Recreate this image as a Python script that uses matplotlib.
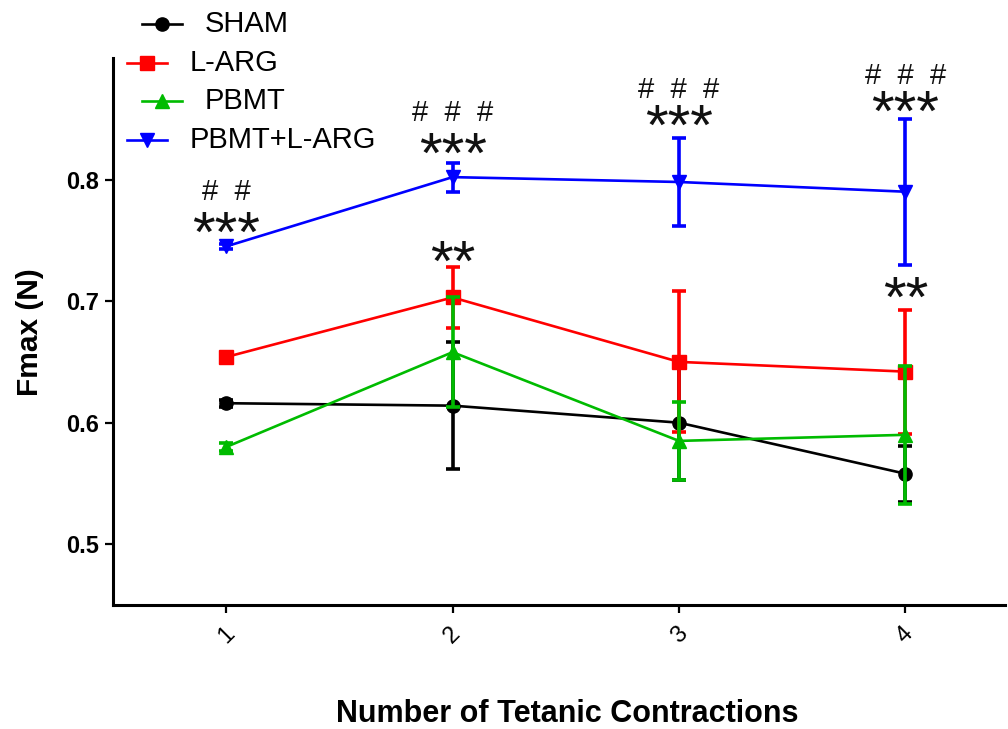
import matplotlib
matplotlib.use("Agg")
import matplotlib.pyplot as plt
from matplotlib.lines import Line2D
from matplotlib.textpath import TextPath
from matplotlib.font_manager import FontProperties

plt.rcParams['font.family'] = ['Liberation Sans', 'DejaVu Sans']

# ---- data ----
contractions = [1, 2, 3, 4]
tick_labels = ["1", "2", "3", "4"]
groups = ["SHAM", "L-ARG", "PBMT", "PBMT+L-ARG"]
sham_mean = [0.616, 0.614, 0.600, 0.558]
sham_err = [0.003, 0.052, 0.047, 0.023]
larg_mean = [0.654, 0.703, 0.650, 0.642]
larg_err = [0.003, 0.025, 0.058, 0.051]
pbmt_mean = [0.580, 0.658, 0.585, 0.590]
pbmt_err = [0.003, 0.045, 0.032, 0.057]
combo_mean = [0.745, 0.802, 0.798, 0.790]
combo_err = [0.002, 0.012, 0.036, 0.060]

# significance annotations (centre of the marks)
stars_x = [1, 2, 3, 4, 2, 4]
stars_y = [0.765, 0.830, 0.853, 0.865, 0.741, 0.712]
stars_txt = ["***", "***", "***", "***", "**", "**"]
hash_x = [1, 2, 3, 4]
hash_y = [0.791, 0.856, 0.875, 0.887]
hash_txt = ["#  #", "#  #  #", "#  #  #", "#  #  #"]

colors = ["#000000", "#ff0000", "#00bb00", "#0000ff"]
markers = ["o", "s", "^", "v"]
msizes = [9.5, 10, 10.5, 10.5]
means = [sham_mean, larg_mean, pbmt_mean, combo_mean]
errs = [sham_err, larg_err, pbmt_err, combo_err]

W, H = 1008, 729
fig = plt.figure(figsize=(W / 100, H / 100), dpi=100)
ax = fig.add_axes([113 / W, 1 - 605 / H, (1005 - 113) / W, (605 - 58) / H])

for i in range(4):
    ax.errorbar(contractions, means[i], yerr=errs[i], color=colors[i],
                marker=markers[i], markersize=msizes[i], linewidth=1.9,
                elinewidth=2.6, capsize=5, capthick=2.6, zorder=3 + i)


def centred_text(x, y, s, size):
    fp = FontProperties(family="Liberation Sans", size=size)
    ext = TextPath((0, 0), s.replace(" ", ""), prop=fp).get_extents()
    yc = (ext.y0 + ext.y1) / 2.0
    ax.annotate(s, xy=(x, y), xytext=(0, -yc), textcoords="offset points",
                ha="center", va="baseline", fontsize=size,
                family="Liberation Sans", color="#111111", zorder=10)


for x, y, t in zip(stars_x, stars_y, stars_txt):
    centred_text(x, y, t, 42)
for x, y, t in zip(hash_x, hash_y, hash_txt):
    centred_text(x, y, t, 21)

ax.set_xlim(0.5, 4.44)
ax.set_ylim(0.45, 0.9)
ax.set_yticks([0.5, 0.6, 0.7, 0.8])
ax.set_yticklabels(["0.5", "0.6", "0.7", "0.8"], fontsize=17, fontweight="bold")
ax.set_xticks(contractions)
ax.set_xticklabels(tick_labels, fontsize=17, rotation=45)
for s in ["top", "right"]:
    ax.spines[s].set_visible(False)
for s in ["left", "bottom"]:
    ax.spines[s].set_linewidth(2.2)
ax.tick_params(axis="both", length=6, width=1.6, direction="out")
ax.tick_params(axis="y", pad=4)
ax.tick_params(axis="x", pad=7)

fig.text(30 / W, 1 - 332 / H, "Fmax (N)", rotation=90, ha="center", va="center",
         fontsize=21.5, fontweight="bold")
fig.text(567 / W, 1 - 722 / H, "Number of Tetanic Contractions", ha="center",
         va="baseline", fontsize=22, fontweight="bold")

# manual legend (staggered as in reference)
leg_rows_y = [24, 63, 101, 140]
leg_x0 = [142, 127, 142, 127]
for i in range(4):
    y = 1 - leg_rows_y[i] / H
    x0 = leg_x0[i] / W
    x1 = (leg_x0[i] + 40) / W
    fig.add_artist(Line2D([x0, (x0 + x1) / 2, x1], [y, y, y], transform=fig.transFigure,
                          color=colors[i], marker=markers[i], markersize=msizes[i],
                          markevery=[1], linewidth=1.9))
    fig.text((leg_x0[i] + 63) / W, y, groups[i], ha="left", va="center", fontsize=21)

fig.savefig("out.png", dpi=100)
